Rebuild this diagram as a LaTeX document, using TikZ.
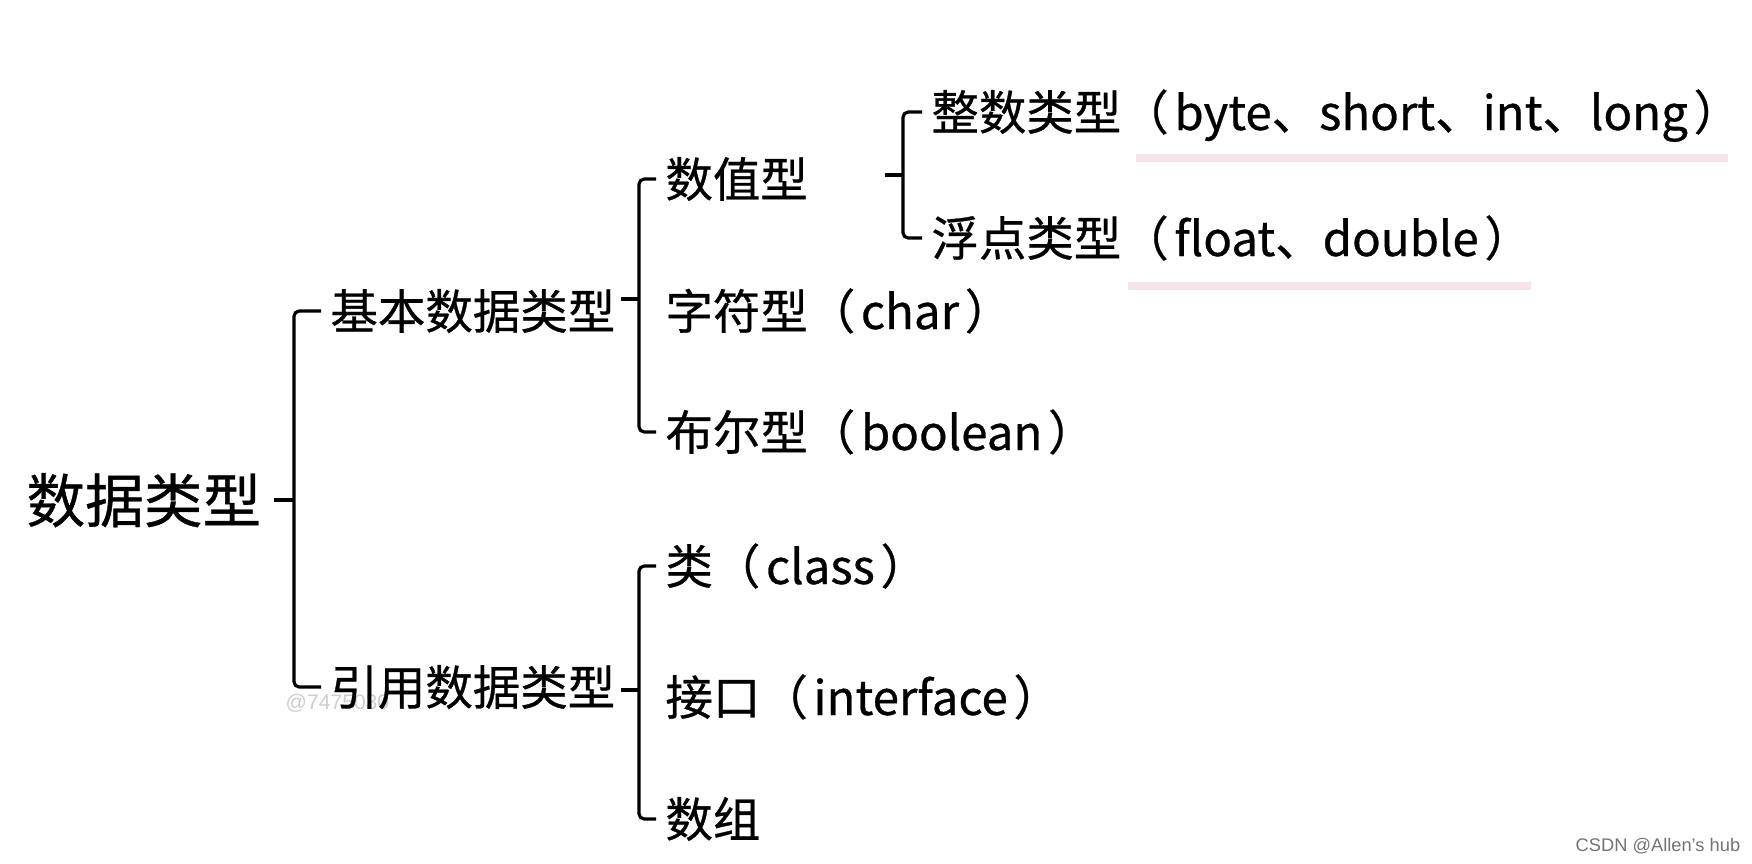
\documentclass[tikz,border=0pt]{standalone}
\usepackage{fontspec}
\setmainfont{Noto Sans CJK SC}[FakeBold=0.6]
\newfontfamily\wmfont{Liberation Sans}
\usetikzlibrary{positioning}
\definecolor{hlpink}{RGB}{246,229,232}
\definecolor{wmgray}{RGB}{115,115,115}
\definecolor{wmlight}{RGB}{205,205,205}
\newcommand{\lp}{（\hspace{0.12em}}
\newcommand{\rp}{\hspace{0.12em}）}

\begin{document}
\begin{tikzpicture}[
    big/.style={anchor=west, inner xsep=2.5pt, inner ysep=0pt, text height=0.57cm, text depth=0.12cm, font=\fontsize{16.7}{20}\selectfont},
    leaf/.style={anchor=west, inner xsep=2.5pt, inner ysep=0pt, text height=0.46cm, text depth=0.10cm, font=\fontsize{13.5}{16}\selectfont},
    brk/.style={line width=0.9pt, rounded corners=1.5pt},
    hl/.style={draw=hlpink, line width=2pt},
    wm/.style={anchor=west, inner sep=0pt, font=\wmfont\fontsize{5.2}{6}\selectfont}
]
\useasboundingbox (0,0) rectangle (17.52,-8.63);

% Watermarks (behind the text)
\node[wm, text=wmlight, font=\wmfont\fontsize{6}{7}\selectfont] (wmid) at (2.85,-7.03) {@7475030};
\node[wm, text=wmgray] (wmcsdn) at (15.75,-8.46) {CSDN @Allen’s hub};

% Root
\node[big] (root) at (0.17,-5.00) {数据类型};

% Second level
\node[leaf] (jiben) at (3.21,-3.11) {基本数据类型};
\node[leaf] (yinyong) at (3.21,-6.87) {引用数据类型};

% Third level
\node[leaf] (shuzhi) at (6.56,-1.79) {数值型};
\node[leaf] (zifu) at (6.56,-3.11) {字符型\lp char\rp};
\node[leaf] (buer) at (6.56,-4.32) {布尔型\lp boolean\rp};

\node[leaf] (lei) at (6.56,-5.66) {类\lp class\rp};
\node[leaf] (jiekou) at (6.56,-6.97) {接口\lp interface\rp};
\node[leaf] (shuzu) at (6.56,-8.19) {数组};

% Fourth level
\node[leaf] (zhengshu) at (9.22,-1.12) {整数类型\lp byte、short、int、long\rp};
\node[leaf] (fudian) at (9.22,-2.38) {浮点类型\lp float、double\rp};

% Bracket spines
\coordinate (s1) at (2.94,-5.00);
\coordinate (s2) at (6.39,-2.99);
\coordinate (s3) at (6.39,-6.90);
\coordinate (s4) at (9.03,-1.75);

% Brackets
\draw[brk] (jiben.west) -| (s1) |- (yinyong.west);
\draw[brk] (s1) -- ++(-0.20,0);

\draw[brk] (shuzhi.west) -| (s2) |- (buer.west);
\draw[brk] (s2) -- ++(-0.18,0);

\draw[brk] (lei.west) -| (s3) |- (shuzu.west);
\draw[brk] (s3) -- ++(-0.18,0);

\draw[brk] (zhengshu.west) -| (s4) |- (fudian.west);
\draw[brk] (s4) -- ++(-0.18,0);

% Underlines
\draw[hl] (11.36,-1.58) -- (17.28,-1.58);
\draw[hl] (11.28,-2.86) -- (15.31,-2.86);

\end{tikzpicture}
\end{document}
